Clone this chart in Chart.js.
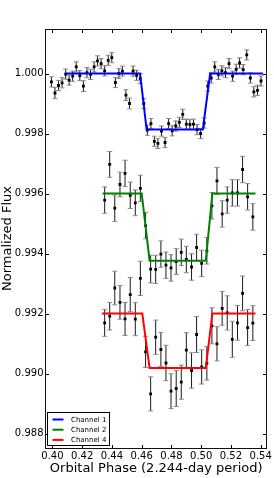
<!DOCTYPE html>
<html><head><meta charset="utf-8">
<script src="https://cdn.jsdelivr.net/npm/chart.js@4.4.1/dist/chart.umd.min.js"></script>
<style>html,body{margin:0;padding:0;background:#fff;}canvas{display:block;}</style>
</head><body>
<canvas id="c" width="274" height="478"></canvas>
<script>
const xTicks = [0.40, 0.42, 0.44, 0.46, 0.48, 0.50, 0.52, 0.54];
const yTicks = [0.988, 0.990, 0.992, 0.994, 0.996, 0.998, 1.000];
const xTitle = 'Orbital Phase (2.244-day period)';
const yTitle = 'Normalized Flux';
const seriesNames = ['Channel 1', 'Channel 2', 'Channel 4'];
const seriesColors = ['#0000ff', '#008000', '#ff0000'];

// Channel 1 binned data
const phase1 = [0.3993,0.4017,0.4041,0.4065,0.4089,0.4112,0.4136,0.4160,0.4184,0.4208,
  0.4232,0.4256,0.4280,0.4303,0.4327,0.4351,0.4375,0.4399,0.4423,0.4447,
  0.4470,0.4494,0.4518,0.4542,0.4566,0.4590,0.4614,0.4638,0.4662,0.4685,
  0.4709,0.4733,0.4757,0.4781,0.4805,0.4829,0.4853,0.4876,0.4900,0.4924,
  0.4948,0.4972,0.4996,0.5020,0.5044,0.5067,0.5091,0.5115,0.5139,0.5163,
  0.5187,0.5211,0.5235,0.5258,0.5282,0.5306,0.5330,0.5354,0.5378,0.5402];
const flux1 = [0.99972,0.99935,0.99960,0.99969,0.99998,0.99978,0.99991,1.00022,0.99993,0.99958,
  1.00003,0.99997,1.00022,1.00042,1.00033,1.00009,1.00044,1.00053,0.99970,1.00000,
  1.00008,0.99928,0.99900,1.00008,0.99994,0.99983,0.99900,0.99811,0.99833,0.99774,
  0.99767,0.99808,0.99770,0.99833,0.99809,0.99825,0.99837,0.99864,0.99831,0.99830,
  0.99831,0.99813,0.99800,0.99835,0.99958,0.99985,1.00022,0.99997,1.00009,1.00003,
  1.00033,0.99991,1.00014,1.00035,1.00013,1.00062,0.99985,0.99939,0.99944,0.99975];
const err1 = [0.00017,0.00019,0.00017,0.00017,0.00017,0.00017,0.00017,0.00017,0.00017,0.00018,
  0.00017,0.00017,0.00017,0.00017,0.00017,0.00017,0.00017,0.00017,0.00017,0.00017,
  0.00017,0.00018,0.00018,0.00017,0.00017,0.00017,0.00017,0.00017,0.00017,0.00017,
  0.00017,0.00017,0.00017,0.00017,0.00017,0.00017,0.00017,0.00017,0.00017,0.00017,
  0.00017,0.00017,0.00017,0.00017,0.00017,0.00017,0.00017,0.00017,0.00017,0.00017,
  0.00017,0.00017,0.00017,0.00017,0.00017,0.00017,0.00017,0.00017,0.00017,0.00017];

// Channel 2 binned data
const phase2 = [0.4351,0.4385,0.4419,0.4454,0.4488,0.4523,0.4557,0.4591,0.4626,0.4660,
  0.4694,0.4729,0.4763,0.4797,0.4832,0.4866,0.4900,0.4935,0.4969,0.5003,
  0.5038,0.5072,0.5106,0.5141,0.5175,0.5209,0.5244,0.5278,0.5312,0.5347];
const flux2 = [0.99578,0.99697,0.99551,0.99630,0.99667,0.99594,0.99569,0.99617,0.99493,0.99348,
  0.99347,0.99398,0.99361,0.99352,0.99373,0.99404,0.99380,0.99355,0.99420,0.99367,
  0.99409,0.99559,0.99642,0.99532,0.99578,0.99602,0.99602,0.99680,0.99589,0.99522];
const err2 = [0.00044,0.00043,0.00044,0.00041,0.00044,0.00044,0.00043,0.00044,0.00044,0.00046,
  0.00047,0.00044,0.00044,0.00044,0.00043,0.00044,0.00044,0.00044,0.00044,0.00044,
  0.00044,0.00044,0.00045,0.00044,0.00044,0.00044,0.00044,0.00044,0.00044,0.00044];

// Channel 4 binned data
const phase4 = [0.4351,0.4385,0.4419,0.4454,0.4488,0.4523,0.4557,0.4591,0.4626,0.4660,
  0.4694,0.4729,0.4763,0.4797,0.4832,0.4866,0.4900,0.4935,0.4969,0.5003,
  0.5038,0.5072,0.5106,0.5141,0.5175,0.5209,0.5244,0.5278,0.5312,0.5347];
const flux4 = [0.99169,0.99191,0.99285,0.99237,0.99182,0.99263,0.99181,0.99317,0.99072,0.98932,
  0.99121,0.99080,0.99035,0.98941,0.98950,0.98971,0.99078,0.99010,0.99130,0.99022,
  0.99034,0.99159,0.99099,0.99217,0.99202,0.99114,0.99169,0.99267,0.99153,0.99168];
const err4 = [0.00045,0.00046,0.00056,0.00056,0.00055,0.00057,0.00055,0.00057,0.00052,0.00057,
  0.00057,0.00057,0.00059,0.00058,0.00060,0.00057,0.00058,0.00059,0.00060,0.00057,
  0.00056,0.00060,0.00057,0.00056,0.00057,0.00060,0.00058,0.00058,0.00060,0.00058];

// Transit model fits
const fitPhase1 = [0.4089,0.4589,0.4633,0.5011,0.5060,0.5415];
const fitFlux1  = [1.00000,1.00000,0.99813,0.99813,1.00000,1.00000];
const fitPhase2 = [0.4337,0.4600,0.4653,0.5031,0.5075,0.5365];
const fitFlux2  = [0.99600,0.99600,0.99376,0.99376,0.99600,0.99600];
const fitPhase4 = [0.4333,0.4604,0.4653,0.5031,0.5075,0.5365];
const fitFlux4  = [0.99200,0.99200,0.99018,0.99018,0.99200,0.99200];

const FONT = 'DejaVu Sans';
const toXY = (xs, ys) => xs.map((x, i) => ({x: x, y: ys[i]}));

function pointSet(xs, ys, es) {
  return {type: 'scatter', data: toXY(xs, ys), errors: es, isPoints: true,
    showLine: false, pointStyle: 'rect', pointRadius: 2, pointBorderWidth: 0,
    backgroundColor: '#000', borderColor: '#000', order: 2};
}
function fitSet(xs, ys, idx) {
  return {type: 'scatter', label: seriesNames[idx], data: toXY(xs, ys), showLine: true,
    borderColor: seriesColors[idx], backgroundColor: seriesColors[idx], borderWidth: 2,
    pointRadius: 0, tension: 0, fill: false, order: 1, isFit: true};
}

const errorBars = {
  id: 'errorBars',
  beforeDatasetsDraw(chart) {
    const ctx = chart.ctx, xs = chart.scales.x, ys = chart.scales.y;
    ctx.save();
    chart.data.datasets.forEach(ds => {
      if (!ds.isPoints) return;
      ds.data.forEach((p, i) => {
        const e = ds.errors[i];
        const px = xs.getPixelForValue(p.x);
        const y1 = ys.getPixelForValue(p.y - e), y2 = ys.getPixelForValue(p.y + e);
        ctx.strokeStyle = '#1a1a1a'; ctx.lineWidth = 1;
        ctx.beginPath(); ctx.moveTo(px, y1); ctx.lineTo(px, y2); ctx.stroke();
        ctx.strokeStyle = '#8a8a8a'; ctx.lineWidth = 1;
        ctx.beginPath();
        ctx.moveTo(px - 2.5, y1); ctx.lineTo(px + 2.5, y1);
        ctx.moveTo(px - 2.5, y2); ctx.lineTo(px + 2.5, y2);
        ctx.stroke();
      });
    });
    ctx.restore();
  }
};

const frameTicks = {
  id: 'frameTicks',
  afterDatasetsDraw(chart) {
    const ctx = chart.ctx, a = chart.chartArea, xs = chart.scales.x, ys = chart.scales.y;
    const L = Math.round(a.left) + 0.5, R = Math.round(a.right) - 0.5;
    const T = Math.round(a.top) + 0.5, B = Math.round(a.bottom) - 0.5;
    const tl = 3.5;
    ctx.save();
    ctx.strokeStyle = '#000'; ctx.lineWidth = 1;
    ctx.beginPath();
    xTicks.forEach(v => {
      const px = Math.round(xs.getPixelForValue(v)) + 0.5;
      ctx.moveTo(px, B); ctx.lineTo(px, B - tl);
      ctx.moveTo(px, T); ctx.lineTo(px, T + tl);
    });
    yTicks.forEach(v => {
      const py = Math.round(ys.getPixelForValue(v)) + 0.5;
      ctx.moveTo(L, py); ctx.lineTo(L + tl, py);
      ctx.moveTo(R, py); ctx.lineTo(R - tl, py);
    });
    ctx.stroke();
    ctx.strokeStyle = '#111';
    ctx.strokeRect(L, T, R - L, B - T);
    ctx.restore();
  }
};

const boxLegend = {
  id: 'boxLegend',
  afterDraw(chart) {
    const ctx = chart.ctx, a = chart.chartArea;
    const fits = chart.data.datasets.filter(d => d.isFit);
    const bx = Math.round(a.left) + 2.5, bw = 62, bh = 33;
    const by = Math.round(a.bottom) - 3.5 - bh;
    ctx.save();
    ctx.fillStyle = '#fff';
    ctx.fillRect(bx, by, bw, bh);
    ctx.strokeStyle = '#000'; ctx.lineWidth = 1;
    ctx.strokeRect(bx, by, bw, bh);
    ctx.font = '7px "' + FONT + '"';
    ctx.textBaseline = 'middle'; ctx.textAlign = 'left';
    fits.forEach((d, i) => {
      const y = by + 7 + i * 10.2;
      ctx.strokeStyle = d.borderColor; ctx.lineWidth = 2;
      ctx.beginPath(); ctx.moveTo(bx + 5, y); ctx.lineTo(bx + 16, y); ctx.stroke();
      ctx.fillStyle = '#000';
      ctx.fillText(d.label, bx + 23.5, y + 0.5);
    });
    ctx.restore();
  }
};

new Chart(document.getElementById('c'), {
  type: 'scatter',
  data: {
    datasets: [
      pointSet(phase1, flux1, err1),
      pointSet(phase2, flux2, err2),
      pointSet(phase4, flux4, err4),
      fitSet(fitPhase1, fitFlux1, 0),
      fitSet(fitPhase2, fitFlux2, 1),
      fitSet(fitPhase4, fitFlux4, 2)
    ]
  },
  options: {
    responsive: false, animation: false, devicePixelRatio: 1, events: [],
    layout: {padding: {top: 28.5, right: 5, left: 0, bottom: 0}},
    plugins: {legend: {display: false}, tooltip: {enabled: false}, title: {display: false}},
    scales: {
      x: {
        type: 'linear', min: 0.395, max: 0.5445,
        grid: {display: false, drawTicks: false}, border: {display: false},
        afterBuildTicks: s => { s.ticks = xTicks.map(v => ({value: v})); },
        afterFit: s => { s.height = 29.5; },
        ticks: {color: '#000', font: {family: FONT, size: 10}, padding: 2,
          autoSkip: false, maxRotation: 0, callback: v => Number(v).toFixed(2)},
        title: {display: true, text: xTitle, color: '#000',
          font: {family: FONT, size: 13}, padding: {top: 0, bottom: 2}}
      },
      y: {
        type: 'linear', min: 0.9875, max: 1.0015,
        grid: {display: false, drawTicks: false}, border: {display: false},
        afterBuildTicks: s => { s.ticks = yTicks.map(v => ({value: v})); },
        afterFit: s => { s.width = 45; },
        ticks: {color: '#000', font: {family: FONT, size: 10}, padding: 1.5,
          autoSkip: false, callback: v => Number(v).toFixed(3)},
        title: {display: true, text: yTitle, color: '#000',
          font: {family: FONT, size: 13}, padding: {top: 0, bottom: 0}}
      }
    }
  },
  plugins: [errorBars, frameTicks, boxLegend]
});
</script>
</body></html>
